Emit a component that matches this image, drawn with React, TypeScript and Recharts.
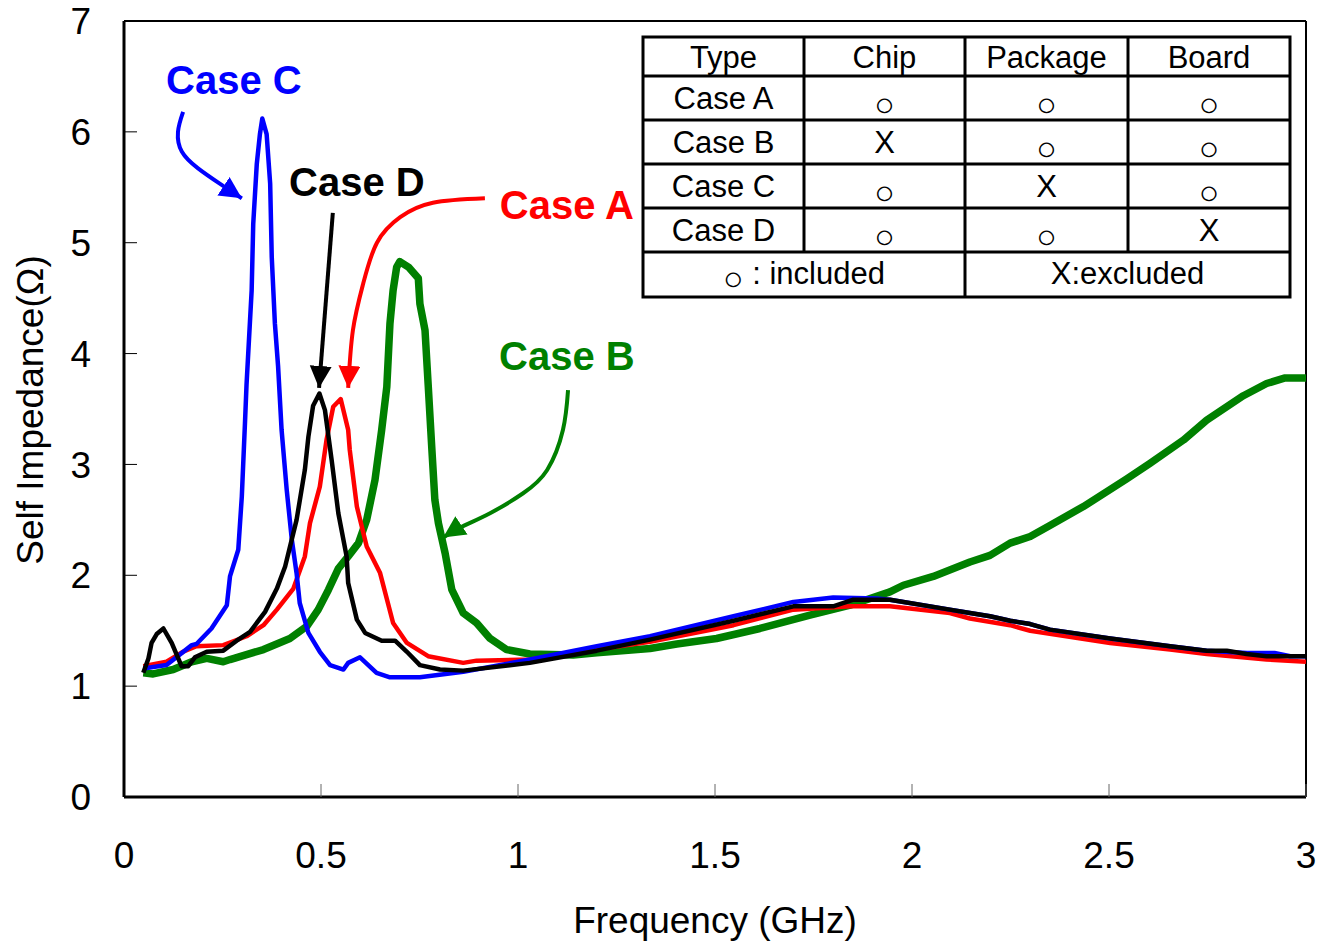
import React from "react";
import { LineChart, Line, XAxis, YAxis, ReferenceLine, ReferenceDot } from "recharts";

type Pt = [number, number];

// [frequency GHz, impedance Ω]
const caseA: Pt[] = [
  [0.049, 1.18], [0.108, 1.22], [0.15, 1.31], [0.184, 1.36], [0.252, 1.37], [0.311, 1.45],
  [0.354, 1.55], [0.388, 1.69], [0.43, 1.88], [0.459, 2.17], [0.472, 2.47], [0.497, 2.8],
  [0.514, 3.22], [0.531, 3.52], [0.55, 3.59], [0.569, 3.31], [0.573, 3.13], [0.591, 2.62],
  [0.616, 2.26], [0.65, 2.02], [0.683, 1.57], [0.718, 1.39], [0.772, 1.27], [0.861, 1.21],
  [0.895, 1.23], [1.03, 1.24], [1.2, 1.33], [1.335, 1.4], [1.547, 1.55], [1.699, 1.69],
  [1.843, 1.72], [1.944, 1.72], [2.096, 1.66], [2.147, 1.61], [2.249, 1.55], [2.3, 1.5],
  [2.503, 1.39], [2.655, 1.33], [2.748, 1.29], [2.9, 1.24], [3.0, 1.22],
];

const caseB: Pt[] = [
  [0.049, 1.12], [0.074, 1.11], [0.125, 1.15], [0.172, 1.22], [0.21, 1.25], [0.252, 1.22],
  [0.269, 1.24], [0.354, 1.33], [0.421, 1.43], [0.464, 1.54], [0.493, 1.69], [0.519, 1.87],
  [0.544, 2.06], [0.569, 2.17], [0.595, 2.29], [0.616, 2.5], [0.637, 2.86], [0.654, 3.31],
  [0.667, 3.7], [0.675, 4.27], [0.683, 4.57], [0.692, 4.78], [0.7, 4.83], [0.722, 4.78],
  [0.747, 4.68], [0.751, 4.45], [0.764, 4.21], [0.772, 3.72], [0.781, 3.16], [0.789, 2.68],
  [0.798, 2.47], [0.815, 2.2], [0.832, 1.87], [0.861, 1.66], [0.895, 1.57], [0.929, 1.43],
  [0.971, 1.33], [1.03, 1.29], [1.14, 1.28], [1.2, 1.3], [1.335, 1.34], [1.403, 1.38],
  [1.504, 1.43], [1.614, 1.52], [1.741, 1.64], [1.843, 1.73], [1.944, 1.85], [1.978, 1.91],
  [2.054, 1.99], [2.147, 2.12], [2.198, 2.18], [2.249, 2.29], [2.3, 2.35], [2.35, 2.45],
  [2.435, 2.62], [2.545, 2.87], [2.604, 3.01], [2.689, 3.22], [2.748, 3.4], [2.841, 3.62],
  [2.9, 3.73], [2.947, 3.78], [3.0, 3.78],
];

const caseC: Pt[] = [
  [0.049, 1.16], [0.108, 1.19], [0.172, 1.37], [0.184, 1.38], [0.222, 1.52], [0.261, 1.73],
  [0.269, 1.99], [0.29, 2.23], [0.299, 2.71], [0.307, 3.37], [0.311, 3.72], [0.324, 4.57],
  [0.328, 5.17], [0.337, 5.71], [0.345, 5.98], [0.351, 6.12], [0.362, 5.98], [0.371, 5.53],
  [0.375, 4.87], [0.383, 4.27], [0.391, 3.89], [0.4, 3.31], [0.413, 2.77], [0.426, 2.32],
  [0.438, 2.02], [0.446, 1.75], [0.468, 1.48], [0.497, 1.31], [0.523, 1.19], [0.557, 1.15],
  [0.569, 1.21], [0.599, 1.26], [0.641, 1.12], [0.675, 1.08], [0.751, 1.08], [0.861, 1.13],
  [1.03, 1.24], [1.2, 1.36], [1.335, 1.45], [1.547, 1.63], [1.699, 1.76], [1.8, 1.8],
  [1.91, 1.79], [1.944, 1.78], [2.096, 1.69], [2.147, 1.66], [2.198, 1.63], [2.249, 1.59],
  [2.3, 1.56], [2.35, 1.51], [2.503, 1.43], [2.655, 1.36], [2.748, 1.32], [2.85, 1.3],
  [2.92, 1.3], [2.96, 1.27], [3.0, 1.27],
];

const caseD: Pt[] = [
  [0.049, 1.12], [0.062, 1.25], [0.07, 1.39], [0.083, 1.47], [0.1, 1.52], [0.121, 1.39],
  [0.146, 1.18], [0.163, 1.18], [0.18, 1.26], [0.21, 1.31], [0.252, 1.32], [0.286, 1.41],
  [0.32, 1.49], [0.358, 1.67], [0.388, 1.88], [0.409, 2.08], [0.438, 2.5], [0.459, 2.95],
  [0.468, 3.25], [0.48, 3.53], [0.496, 3.64], [0.51, 3.49], [0.527, 3.04], [0.544, 2.56],
  [0.565, 2.17], [0.569, 1.93], [0.591, 1.6], [0.612, 1.48], [0.654, 1.41], [0.688, 1.41],
  [0.718, 1.31], [0.751, 1.19], [0.802, 1.15], [0.861, 1.14], [1.03, 1.21], [1.2, 1.32],
  [1.335, 1.42], [1.547, 1.59], [1.699, 1.72], [1.8, 1.72], [1.851, 1.78], [1.944, 1.78],
  [2.096, 1.69], [2.147, 1.66], [2.198, 1.63], [2.249, 1.59], [2.3, 1.56], [2.35, 1.51],
  [2.503, 1.43], [2.655, 1.36], [2.748, 1.32], [2.799, 1.32], [2.849, 1.29], [2.9, 1.27],
  [3.0, 1.27],
];

// callout arrows, in the same data units
const arrowC: Pt[] = [[0.15, 6.18], [0.137, 6.0], [0.147, 5.82], [0.188, 5.67], [0.244, 5.53], [0.299, 5.4]];
const arrowD: Pt[] = [[0.53, 5.27], [0.495, 3.69]];
const arrowA: Pt[] = [[0.916, 5.4], [0.784, 5.36], [0.701, 5.23], [0.642, 5.0], [0.607, 4.63], [0.581, 4.21], [0.569, 3.69]];
const arrowB: Pt[] = [[1.127, 3.67], [1.114, 3.31], [1.074, 2.95], [1.013, 2.74], [0.929, 2.56], [0.853, 2.43], [0.81, 2.34]];

const calloutNames = ["Case C", "Case D", "Case A", "Case B"];
const calloutAt: Pt[] = [[0.279, 6.47], [0.591, 5.55], [1.124, 5.34], [1.124, 3.98]];

const xTicks = [0, 0.5, 1, 1.5, 2, 2.5, 3];
const yTicks = [0, 1, 2, 3, 4, 5, 6, 7];

const tableHead = ["Type", "Chip", "Package", "Board"];
const tableRows = [
  ["Case A", "○", "○", "○"],
  ["Case B", "X", "○", "○"],
  ["Case C", "○", "X", "○"],
  ["Case D", "○", "○", "X"],
];
const tableFoot = [": included", "X:excluded"];

const FONT = '"Liberation Sans", Arial, Helvetica, sans-serif';
const BLUE = "#0000ff";
const RED = "#ff0000";
const GREEN = "#008000";
const BLACK = "#000000";
const calloutColors = [BLUE, BLACK, RED, GREEN];

const toRows = (pts: Pt[]) => pts.map(([f, z]) => ({ f, z }));

// table layout (pixels)
const colEdges = [643, 804, 965, 1128, 1290];
const rowEdges = [37, 76, 120, 164, 208, 252, 297];

function Table() {
  const cx = (i: number) => (colEdges[i] + colEdges[i + 1]) / 2;
  return (
    <g fontFamily={FONT} fill="#000">
      <rect x={colEdges[0]} y={rowEdges[0]} width={colEdges[4] - colEdges[0]} height={rowEdges[6] - rowEdges[0]} fill="#fff" stroke="#000" strokeWidth={3} />
      {rowEdges.slice(1, 6).map((y) => (
        <line key={y} x1={colEdges[0]} x2={colEdges[4]} y1={y} y2={y} stroke="#000" strokeWidth={3} />
      ))}
      {colEdges.slice(1, 4).map((x, i) => (
        <line key={x} x1={x} x2={x} y1={rowEdges[0]} y2={i === 1 ? rowEdges[6] : rowEdges[5]} stroke="#000" strokeWidth={3} />
      ))}
      {tableHead.map((t, i) => (
        <text key={t} x={cx(i)} y={rowEdges[0] + 31} textAnchor="middle" fontSize={31}>{t}</text>
      ))}
      {tableRows.map((row, r) =>
        row.map((t, c) =>
          t === "○" ? (
            <text key={`${r}-${c}`} x={cx(c)} y={rowEdges[r + 1] + 40} textAnchor="middle" fontSize={34}>{t}</text>
          ) : (
            <text key={`${r}-${c}`} x={cx(c)} y={rowEdges[r + 1] + 33} textAnchor="middle" fontSize={31}>{t}</text>
          )
        )
      )}
      <text x={(colEdges[0] + colEdges[2]) / 2} y={rowEdges[5] + 32} textAnchor="middle" fontSize={31}>
        <tspan fontSize={34} dy={6}>○</tspan>
        <tspan dy={-6}> {tableFoot[0]}</tspan>
      </text>
      <text x={(colEdges[2] + colEdges[4]) / 2} y={rowEdges[5] + 32} textAnchor="middle" fontSize={31}>{tableFoot[1]}</text>
    </g>
  );
}

export default function App() {
  const series = [
    { name: "Case B", pts: caseB, color: GREEN, width: 7.5 },
    { name: "Case A", pts: caseA, color: RED, width: 4.5 },
    { name: "Case C", pts: caseC, color: BLUE, width: 4.5 },
    { name: "Case D", pts: caseD, color: BLACK, width: 4.5 },
  ];
  const arrows = [
    { id: "arrC", pts: arrowC, color: BLUE, type: "natural" as const },
    { id: "arrD", pts: arrowD, color: BLACK, type: "linear" as const },
    { id: "arrA", pts: arrowA, color: RED, type: "natural" as const },
    { id: "arrB", pts: arrowB, color: GREEN, type: "natural" as const },
  ];

  return (
    <div style={{ position: "absolute", left: 0, top: 0, width: 1321, height: 942, background: "#fff", fontFamily: FONT }}>
      <svg width={0} height={0} style={{ position: "absolute" }}>
        <defs>
          {arrows.map((a) => (
            <marker key={a.id} id={a.id} markerUnits="userSpaceOnUse" markerWidth={24} markerHeight={24} refX={22} refY={11} orient="auto">
              <path d="M0,0 L22,11 L0,22 Z" fill={a.color} />
            </marker>
          ))}
        </defs>
      </svg>
      <LineChart width={1321} height={942} margin={{ top: 21, right: 15, bottom: 45, left: 44 }}>
        <XAxis
          type="number"
          dataKey="f"
          domain={[0, 3]}
          ticks={xTicks}
          interval={0}
          allowDataOverflow
          height={100}
          tickSize={-13}
          tickMargin={58}
          tick={{ fill: "#000", fontSize: 37, fontFamily: FONT }}
          axisLine={{ stroke: "#000", strokeWidth: 3 }}
          tickLine={{ stroke: "#666", strokeWidth: 1 }}
        />
        <YAxis
          type="number"
          dataKey="z"
          domain={[0, 7]}
          ticks={yTicks}
          interval={0}
          allowDataOverflow
          width={80}
          tickSize={-13}
          tickMargin={46}
          tick={{ fill: "#000", fontSize: 37, fontFamily: FONT }}
          axisLine={{ stroke: "#000", strokeWidth: 3 }}
          tickLine={{ stroke: "#000", strokeWidth: 1 }}
        />
        <ReferenceLine x={3} stroke="#000" strokeWidth={2} />
        <ReferenceLine y={7} stroke="#000" strokeWidth={2} />
        {series.map((s) => (
          <Line
            key={s.name}
            data={toRows(s.pts)}
            dataKey="z"
            type="linear"
            stroke={s.color}
            strokeWidth={s.width}
            strokeLinejoin="round"
            dot={false}
            activeDot={false}
            isAnimationActive={false}
          />
        ))}
        {arrows.map((a) => (
          <Line
            key={a.id}
            data={toRows(a.pts)}
            dataKey="z"
            type={a.type}
            stroke={a.color}
            strokeWidth={4}
            markerEnd={`url(#${a.id})`}
            dot={false}
            activeDot={false}
            isAnimationActive={false}
          />
        ))}
        {calloutNames.map((n, i) => (
          <ReferenceDot
            key={n}
            x={calloutAt[i][0]}
            y={calloutAt[i][1]}
            r={0}
            fill="none"
            stroke="none"
            label={{ value: n, position: "center", fill: calloutColors[i], fontSize: 40, fontWeight: "bold", fontFamily: FONT }}
          />
        ))}
      </LineChart>
      <svg width={1321} height={942} style={{ position: "absolute", left: 0, top: 0, pointerEvents: "none" }}>
        <Table />
        <text x={715} y={933} textAnchor="middle" fontSize={37} fontFamily={FONT} fill="#000">Frequency (GHz)</text>
        <text x={43} y={410} textAnchor="middle" fontSize={37} fontFamily={FONT} fill="#000" transform="rotate(-90 43 410)">
          Self Impedance(Ω)
        </text>
      </svg>
    </div>
  );
}
